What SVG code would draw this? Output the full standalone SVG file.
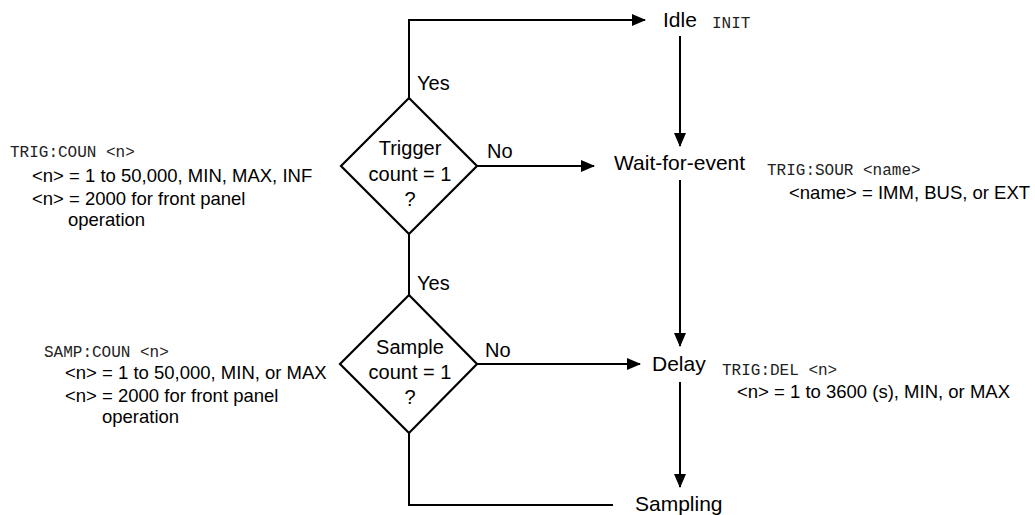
<svg xmlns="http://www.w3.org/2000/svg" width="1035" height="515" viewBox="0 0 1035 515">
<defs>
<style>
.lbl{font-family:"Liberation Sans",Arial,sans-serif;font-size:20px;fill:#000}
.node{font-family:"Liberation Sans",Arial,sans-serif;font-size:21px;fill:#000}
.par{font-family:"Liberation Sans",Arial,sans-serif;font-size:18.5px;fill:#000}
.cmd{font-family:"Liberation Mono","Courier New",monospace;font-size:16px;fill:#222}
.ln{fill:none;stroke:#000;stroke-width:2}
.dia{fill:#fff;stroke:#000;stroke-width:2.2}
</style>
<marker id="arr" markerUnits="userSpaceOnUse" markerWidth="14" markerHeight="12" refX="13" refY="6" orient="auto">
<path d="M0,0 L14,6 L0,12 Z" fill="#000"/>
</marker>
</defs>
<rect width="1035" height="515" fill="#fff"/>
<g id="connectors">
<path class="ln" d="M409,98 V20 H645" marker-end="url(#arr)"/>
<path class="ln" d="M680,36 V146" marker-end="url(#arr)"/>
<path class="ln" d="M477,166 H594" marker-end="url(#arr)"/>
<path class="ln" d="M680,180 V346" marker-end="url(#arr)"/>
<path class="ln" d="M409,234 V295"/>
<path class="ln" d="M476,364 H640" marker-end="url(#arr)"/>
<path class="ln" d="M680,382 V487" marker-end="url(#arr)"/>
<path class="ln" d="M409,433 V505 H613"/>
<text class="lbl" x="417" y="90">Yes</text>
<text class="lbl" x="487" y="158">No</text>
<text class="lbl" x="417" y="290">Yes</text>
<text class="lbl" x="485" y="357">No</text>
</g>
<g id="trigger-decision">
<polygon class="dia" points="409,98 477,166 409,234 341,166"/>
<text class="lbl" x="410" y="155" text-anchor="middle">Trigger</text>
<text class="lbl" x="410" y="181" text-anchor="middle">count = 1</text>
<text class="lbl" x="410" y="206" text-anchor="middle">?</text>
</g>
<g id="sample-decision">
<polygon class="dia" points="409,295 477,364 409,433 340,364"/>
<text class="lbl" x="410" y="354" text-anchor="middle">Sample</text>
<text class="lbl" x="410" y="379" text-anchor="middle">count = 1</text>
<text class="lbl" x="410" y="404" text-anchor="middle">?</text>
</g>
<g id="idle">
<text class="node" x="663" y="27">Idle</text>
<text class="cmd" x="712" y="28">INIT</text>
</g>
<g id="wait-for-event">
<text class="node" x="614" y="170">Wait-for-event</text>
<text class="cmd" x="767" y="175">TRIG:SOUR &lt;name&gt;</text>
<text class="par" x="789" y="199">&lt;name&gt; = IMM, BUS, or EXT</text>
</g>
<g id="delay">
<text class="node" x="652" y="371">Delay</text>
<text class="cmd" x="722" y="375">TRIG:DEL &lt;n&gt;</text>
<text class="par" x="737" y="398">&lt;n&gt; = 1 to 3600 (s), MIN, or MAX</text>
</g>
<g id="sampling">
<text class="node" x="635" y="511">Sampling</text>
</g>
<g id="trig-count-note">
<text class="cmd" x="10" y="157">TRIG:COUN &lt;n&gt;</text>
<text class="par" x="32" y="182">&lt;n&gt; = 1 to 50,000, MIN, MAX, INF</text>
<text class="par" x="32" y="205">&lt;n&gt; = 2000 for front panel</text>
<text class="par" x="68" y="226">operation</text>
</g>
<g id="samp-count-note">
<text class="cmd" x="44" y="357">SAMP:COUN &lt;n&gt;</text>
<text class="par" x="65" y="379">&lt;n&gt; = 1 to 50,000, MIN, or MAX</text>
<text class="par" x="65" y="402">&lt;n&gt; = 2000 for front panel</text>
<text class="par" x="102" y="423">operation</text>
</g>
</svg>
